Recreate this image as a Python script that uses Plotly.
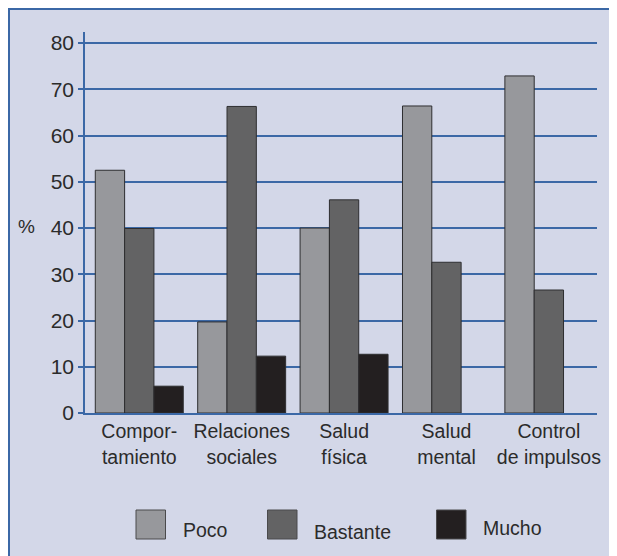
import plotly.graph_objects as go

# ---- data ----
categories = ["Compor-<br>tamiento", "Relaciones<br>sociales", "Salud<br>física",
              "Salud<br>mental", "Control<br>de impulsos"]
series_names = ["Poco", "Bastante", "Mucho"]
poco = [52.5, 19.7, 40.0, 66.4, 72.9]
bastante = [39.9, 66.3, 46.1, 32.6, 26.6]
mucho = [5.8, 12.3, 12.7, None, None]
y_ticks = [0, 10, 20, 30, 40, 50, 60, 70, 80]

# ---- styles ----
colors = ["#97989c", "#636364", "#231f20"]
outline = "#2e2e30"
blue = "#3b68a6"
bg = "#d3d7e8"
txt = "#2b2b2b"
FONT = "Liberation Sans, Arial, sans-serif"

OFF = 8  # page body margin
W, H = 609, 548
ML, MR, MT, MB = 77, 20, 24, 143
PW, PH = W - ML - MR, H - MT - MB


def px_x(px):  # px given in page (screenshot) coordinates
    return (px - OFF - ML) / PW


def px_y(py):
    return (H - MB - (py - OFF)) / PH


fig = go.Figure()
x_idx = list(range(len(categories)))
for name, vals, col in zip(series_names, [poco, bastante, mucho], colors):
    fig.add_trace(go.Bar(
        x=x_idx, y=vals, name=name,
        marker=dict(color=col, line=dict(color=outline, width=1)),
        showlegend=False, hoverinfo="skip",
    ))

shapes = [
    dict(type="line", xref="paper", yref="paper",
         x0=px_x(9), x1=px_x(9), y0=px_y(560), y1=px_y(8),
         line=dict(color=blue, width=2)),
    dict(type="line", xref="paper", yref="paper",
         x0=px_x(8), x1=px_x(640), y0=px_y(9), y1=px_y(9),
         line=dict(color=blue, width=2)),
]

annotations = [
    dict(text="%", xref="paper", yref="paper", x=px_x(26.5), y=px_y(226),
         showarrow=False, font=dict(size=19, color=txt, family=FONT),
         xanchor="center", yanchor="middle"),
]

# legend drawn as big squares + labels
leg_sq_x = [136, 267.5, 436.5]
leg_txt = [(181, 530), (312, 531.5), (480.5, 527.5)]
for name, col, sx, (tx, ty) in zip(series_names, colors, leg_sq_x, leg_txt):
    shapes.append(dict(type="rect", xref="paper", yref="paper",
                       x0=px_x(sx), x1=px_x(sx + 29.5), y0=px_y(539), y1=px_y(510),
                       fillcolor=col, line=dict(color="#4a4a4c", width=1)))
    annotations.append(dict(text=name, xref="paper", yref="paper",
                            x=px_x(tx), y=px_y(ty), showarrow=False,
                            xanchor="left", yanchor="middle",
                            font=dict(size=19.5, color=txt, family=FONT)))

fig.update_layout(
    width=W, height=H,
    margin=dict(l=ML, r=MR, t=MT, b=MB, pad=0),
    paper_bgcolor=bg,
    plot_bgcolor=bg,
    barmode="group", bargap=0.141, bargroupgap=0,
    font=dict(family=FONT, color=txt),
    shapes=shapes, annotations=annotations,
    xaxis=dict(
        tickmode="array", tickvals=x_idx, ticktext=categories,
        range=[-0.53, 4.47], showgrid=False, zeroline=False,
        showline=True, linecolor=blue, linewidth=1.5, ticks="",
        tickfont=dict(size=19.5, color=txt, family=FONT),
        fixedrange=True,
    ),
    yaxis=dict(
        range=[0, 82.4], tickmode="array", tickvals=y_ticks,
        ticktext=[str(v) for v in y_ticks],
        showgrid=True, gridcolor=blue, gridwidth=1.5, zeroline=False,
        showline=True, linecolor=blue, linewidth=1.5,
        ticks="outside", ticklen=5, tickcolor=blue, tickwidth=1.5,
        tickfont=dict(size=21, color=txt, family=FONT),
        fixedrange=True,
    ),
)

fig.write_html("out.html")
